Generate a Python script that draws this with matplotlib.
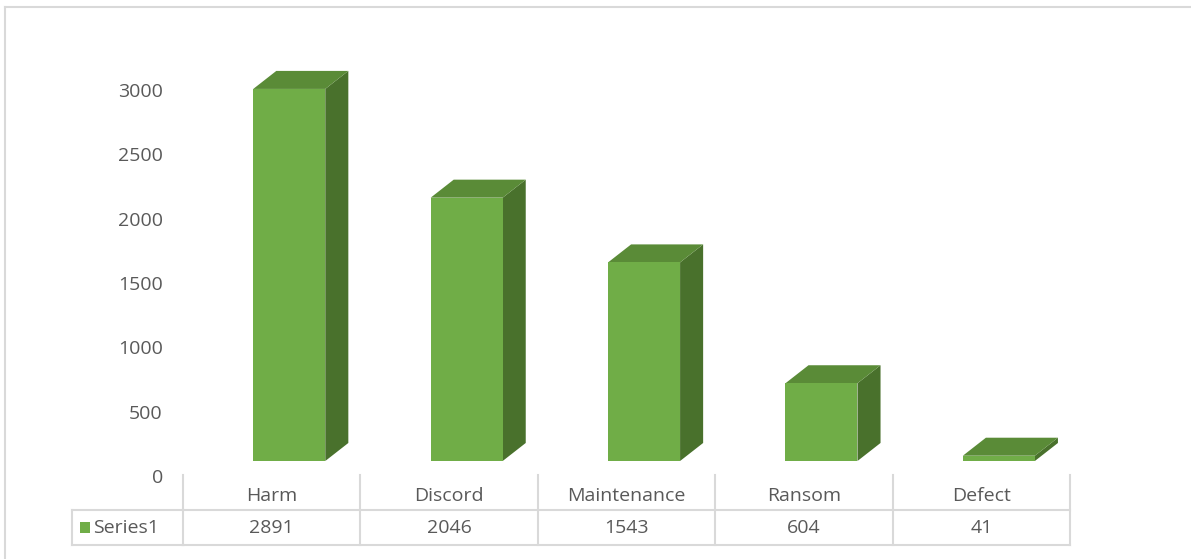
import matplotlib.pyplot as plt
import numpy as np
from matplotlib.patches import Rectangle, Polygon
from matplotlib.transforms import blended_transform_factory, ScaledTranslation

categories = ['Harm', 'Discord', 'Maintenance', 'Ransom', 'Defect']
values = [2891, 2046, 1543, 604, 41]
series_name = 'Series1'
y_ticks = [0, 500, 1000, 1500, 2000, 2500, 3000]

FRONT = '#70AD47'
TOP = '#5A8B37'
SIDE = '#49712C'
GRID = '#D9D9D9'
TEXT = '#595959'

plt.rcParams['font.family'] = ['Open Sans', 'DejaVu Sans']

W, H = 1191, 559
fig = plt.figure(figsize=(W / 100, H / 100), dpi=100)

def fx(px):
    return px / W

def fy(py):
    return 1 - py / H

# plot area: x spans the data-table columns, y=0 sits at the bar floor
ax = fig.add_axes([fx(183), fy(461), fx(1070) - fx(183), fy(20) - fy(461)])
ax.set_xlim(-0.5, len(categories) - 0.5)
ax.set_ylim(0, 441 / 0.1287)
for s in ax.spines.values():
    s.set_visible(False)
ax.set_xticks([])
ax.set_yticks(y_ticks)
ax.set_yticklabels([str(t) for t in y_ticks])
ax.tick_params(axis='y', length=0, pad=14.5, labelsize=14, labelcolor=TEXT)
shift = ScaledTranslation(0, -0.15, fig.dpi_scale_trans)
for lab in ax.get_yticklabels():
    lab.set_transform(lab.get_transform() + shift)

# 3d-looking bars: front face, top face and right side
bar_w = 0.406
off = 0.099
dx = 0.13
dy = 140
for i, v in enumerate(values):
    x0 = i + off - bar_w / 2
    ax.add_patch(Polygon([(x0 + bar_w, 0), (x0 + bar_w + dx, dy),
                          (x0 + bar_w + dx, v + dy), (x0 + bar_w, v)],
                         closed=True, facecolor=SIDE, edgecolor='none', clip_on=False))
    ax.add_patch(Polygon([(x0, v), (x0 + dx, v + dy), (x0 + bar_w + dx, v + dy),
                          (x0 + bar_w, v)],
                         closed=True, facecolor=TOP, edgecolor='none', clip_on=False))
    ax.add_patch(Rectangle((x0, 0), bar_w, v, facecolor=FRONT, edgecolor='none',
                           clip_on=False))

# data table under the plot
tr = blended_transform_factory(ax.transData, fig.transFigure)
n = len(categories)
edges = np.arange(n + 1) - 0.5
for e in edges:
    ax.plot([e, e], [fy(475), fy(545)], color=GRID, lw=1.5, transform=tr, clip_on=False)
for py in (510, 545):
    ax.plot([-0.5, n - 0.5], [fy(py), fy(py)], color=GRID, lw=1.5, transform=tr, clip_on=False)
    fig.add_artist(plt.Line2D([fx(72), fx(183)], [fy(py), fy(py)], color=GRID, lw=1.5))
fig.add_artist(plt.Line2D([fx(72), fx(72)], [fy(510), fy(545)], color=GRID, lw=1.5))

for i, (c, v) in enumerate(zip(categories, values)):
    ax.text(i, fy(496), c, transform=tr, ha='center', va='center',
            fontsize=14, color=TEXT)
    ax.text(i, fy(528), str(v), transform=tr, ha='center', va='center',
            fontsize=14, color=TEXT)

fig.add_artist(Rectangle((fx(80), fy(533)), fx(10), fy(522) - fy(533),
                         transform=fig.transFigure, facecolor=FRONT, edgecolor='none'))
fig.text(fx(93), fy(528), series_name, ha='left', va='center', fontsize=14, color=TEXT)

# outer chart border
fig.add_artist(plt.Line2D([fx(5), 1], [fy(7), fy(7)], color=GRID, lw=1.5))
fig.add_artist(plt.Line2D([fx(5), fx(5)], [fy(7), 0], color=GRID, lw=1.5))

fig.savefig('out.png', dpi=100)
